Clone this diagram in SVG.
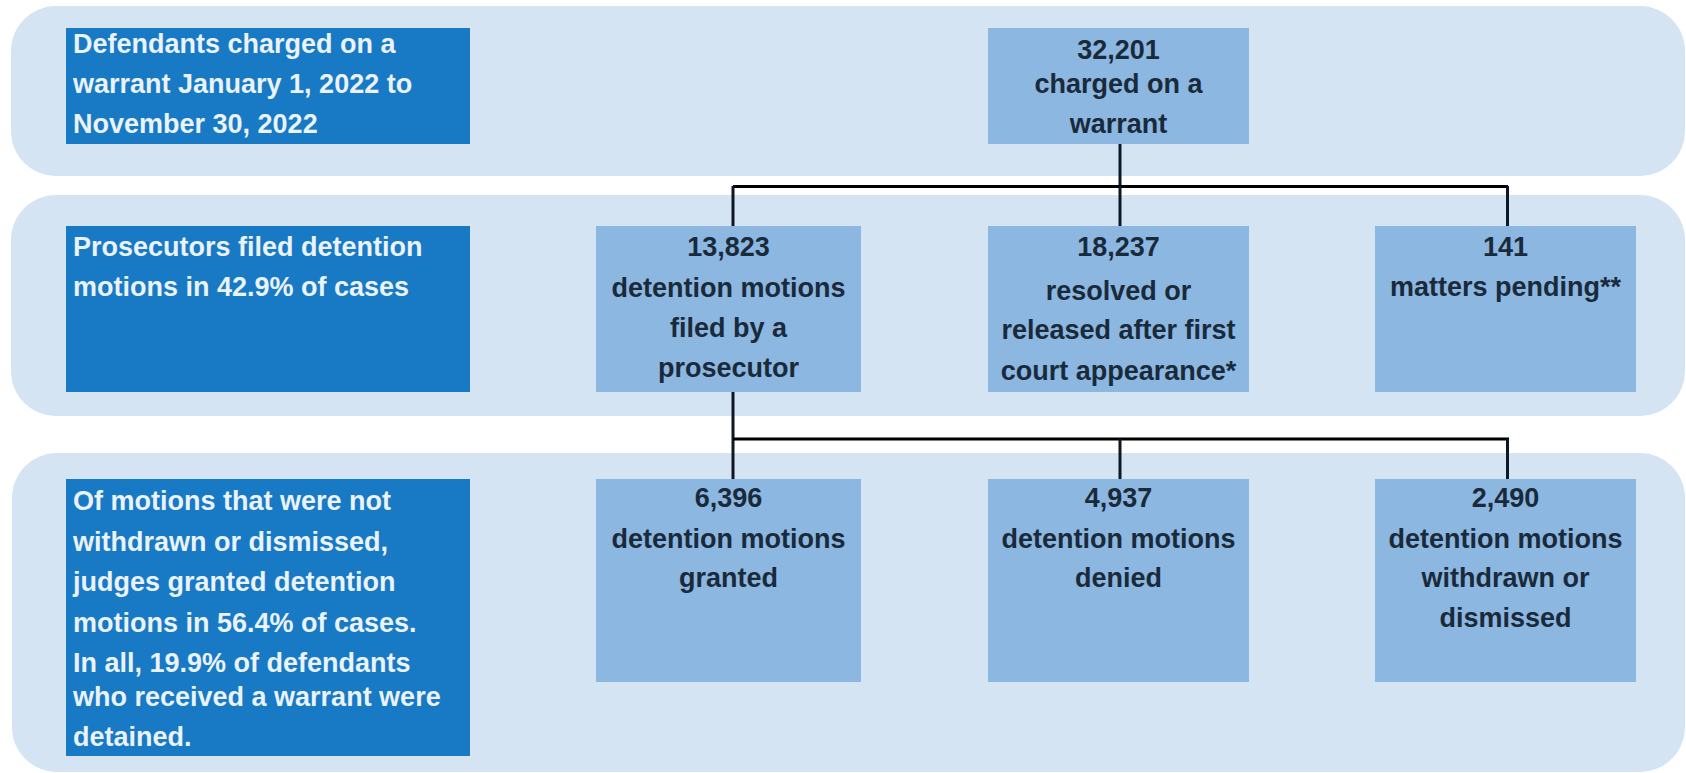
<svg xmlns="http://www.w3.org/2000/svg" width="1686" height="773" viewBox="0 0 1686 773">
<style>
.band{fill:#D5E4F3}
.side{fill:#1879C4}
.node{fill:#8BB7E0}
.st{font-family:"Liberation Sans",Arial,sans-serif;font-weight:bold;font-size:27px;fill:#EAF2FA}
.nt{font-family:"Liberation Sans",Arial,sans-serif;font-weight:bold;font-size:27px;fill:#1A2A3B;text-anchor:middle}
.h{stroke:#000;stroke-width:3.2;fill:none}
.v{stroke:#0E1824;stroke-width:3;fill:none}
</style>
<rect width="1686" height="773" fill="#FFFFFF"/>
<g id="bands">
<rect class="band" x="11" y="6" width="1674" height="170" rx="45"/>
<rect class="band" x="11" y="195" width="1674" height="221" rx="45"/>
<rect class="band" x="12" y="453" width="1673" height="319" rx="45"/>
</g>
<g id="connectors">
<line class="v" x1="1120" y1="144" x2="1120" y2="187"/>
<line class="h" x1="733" y1="186.5" x2="1508" y2="186.5"/>
<line class="v" x1="733" y1="186" x2="733" y2="226"/>
<line class="v" x1="1120" y1="186" x2="1120" y2="226"/>
<line class="v" x1="1507.5" y1="186" x2="1507.5" y2="226"/>
<line class="v" x1="733" y1="392" x2="733" y2="479"/>
<line class="h" x1="733" y1="439" x2="1509" y2="439"/>
<line class="v" x1="1120" y1="439" x2="1120" y2="479"/>
<line class="v" x1="1507.5" y1="439" x2="1507.5" y2="479"/>
</g>
<g id="label-period">
<rect class="side" x="66" y="28" width="404" height="116"/>
<text class="st" x="73" y="53">Defendants charged on a</text>
<text class="st" x="73" y="93">warrant January 1, 2022 to</text>
<text class="st" x="73" y="133">November 30, 2022</text>
</g>
<g id="label-filed">
<rect class="side" x="66" y="226" width="404" height="166"/>
<text class="st" x="73" y="256">Prosecutors filed detention</text>
<text class="st" x="73" y="296">motions in 42.9% of cases</text>
</g>
<g id="label-outcome">
<rect class="side" x="66" y="479" width="404" height="277"/>
<text class="st" x="73" y="510">Of motions that were not</text>
<text class="st" x="73" y="551">withdrawn or dismissed,</text>
<text class="st" x="73" y="591">judges granted detention</text>
<text class="st" x="73" y="632">motions in 56.4% of cases.</text>
<text class="st" x="73" y="672">In all, 19.9% of defendants</text>
<text class="st" x="73" y="706">who received a warrant were</text>
<text class="st" x="73" y="746">detained.</text>
</g>
<g id="node-charged">
<rect class="node" x="988" y="28" width="261" height="116"/>
<text class="nt" x="1118.5" y="59">32,201</text>
<text class="nt" x="1118.5" y="93">charged on a</text>
<text class="nt" x="1118.5" y="133">warrant</text>
</g>
<g id="node-filed">
<rect class="node" x="596" y="226" width="265" height="166"/>
<text class="nt" x="728.5" y="256">13,823</text>
<text class="nt" x="728.5" y="297">detention motions</text>
<text class="nt" x="728.5" y="337">filed by a</text>
<text class="nt" x="728.5" y="377">prosecutor</text>
</g>
<g id="node-resolved">
<rect class="node" x="988" y="226" width="261" height="166"/>
<text class="nt" x="1118.5" y="256">18,237</text>
<text class="nt" x="1118.5" y="300">resolved or</text>
<text class="nt" x="1118.5" y="339">released after first</text>
<text class="nt" x="1118.5" y="380">court appearance*</text>
</g>
<g id="node-pending">
<rect class="node" x="1375" y="226" width="261" height="166"/>
<text class="nt" x="1505.5" y="256">141</text>
<text class="nt" x="1505.5" y="296">matters pending**</text>
</g>
<g id="node-granted">
<rect class="node" x="596" y="479" width="265" height="203"/>
<text class="nt" x="728.5" y="507">6,396</text>
<text class="nt" x="728.5" y="548">detention motions</text>
<text class="nt" x="728.5" y="587">granted</text>
</g>
<g id="node-denied">
<rect class="node" x="988" y="479" width="261" height="203"/>
<text class="nt" x="1118.5" y="507">4,937</text>
<text class="nt" x="1118.5" y="548">detention motions</text>
<text class="nt" x="1118.5" y="587">denied</text>
</g>
<g id="node-withdrawn">
<rect class="node" x="1375" y="479" width="261" height="203"/>
<text class="nt" x="1505.5" y="507">2,490</text>
<text class="nt" x="1505.5" y="548">detention motions</text>
<text class="nt" x="1505.5" y="587">withdrawn or</text>
<text class="nt" x="1505.5" y="627">dismissed</text>
</g>
</svg>
